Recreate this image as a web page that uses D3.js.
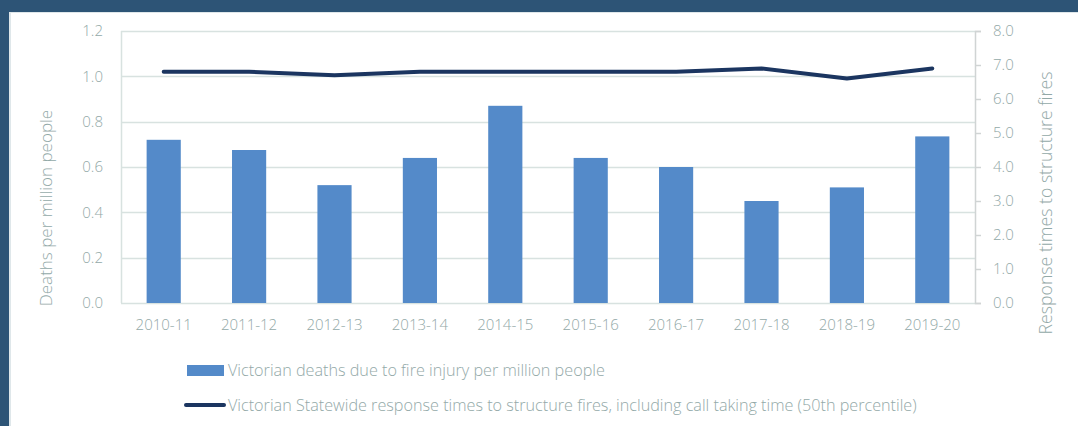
<!DOCTYPE html>
<html>
<head>
<meta charset="utf-8">
<script src="https://cdn.jsdelivr.net/npm/d3@7"></script>
<style>
  body { margin: 0; background: #2d5476; }
  text { font-family: 'Open Sans', sans-serif; font-weight: 300; fill: #93a9a8; }
</style>
</head>
<body>
<div class="chart"></div>
<script>
var width = 1078
var height = 426

var years = ['2010-11', '2011-12', '2012-13', '2013-14', '2014-15', '2015-16', '2016-17', '2017-18', '2018-19', '2019-20']
var deaths = [0.72, 0.675, 0.52, 0.64, 0.87, 0.64, 0.60, 0.45, 0.51, 0.735]
var response = [6.8, 6.8, 6.7, 6.8, 6.8, 6.8, 6.8, 6.9, 6.6, 6.9]
var leftTicks = [0, 0.2, 0.4, 0.6, 0.8, 1.0, 1.2]
var rightTicks = [0, 1, 2, 3, 4, 5, 6, 7, 8]
var legendLabels = ['Victorian deaths due to fire injury per million people',
    'Victorian Statewide response times to structure fires, including call taking time (50th percentile)']

var svg = d3.select('.chart').append('svg')
    .attr('width', width)
    .attr('height', height)
    .style('display', 'block');

// frame
svg.append('rect').attr('width', width).attr('height', height).attr('fill', '#2d5476');
svg.append('rect').attr('x', 9).attr('y', 12).attr('width', width - 9).attr('height', height - 12).attr('fill', '#dfe7ea');
svg.append('rect').attr('x', 11).attr('y', 13).attr('width', width - 11).attr('height', height - 13).attr('fill', '#ffffff');

var plotLeft = 121, plotRight = 975, plotTop = 31, plotBottom = 303

var x = d3.scaleBand().domain(years).range([plotLeft, plotRight]).paddingInner(0.6).paddingOuter(0.3)
var y = d3.scaleLinear().domain([0, 1.2]).range([plotBottom, plotTop])
var y2 = d3.scaleLinear().domain([0, 8]).range([plotBottom, plotTop])

// gridlines
svg.append('g').selectAll('line')
    .data(leftTicks)
    .enter()
    .append('line')
    .attr('x1', plotLeft).attr('x2', plotRight)
    .attr('y1', function (d) { return Math.round(y(d)) + 0.5 })
    .attr('y2', function (d) { return Math.round(y(d)) + 0.5 })
    .attr('stroke', '#d8e2e0')
    .attr('stroke-width', 1.5);

svg.append('line')
    .attr('x1', plotLeft + 0.5).attr('x2', plotLeft + 0.5)
    .attr('y1', plotTop).attr('y2', plotBottom)
    .attr('stroke', '#d8e2e0').attr('stroke-width', 1.5);

// left axis labels
svg.append('g').selectAll('text')
    .data(leftTicks)
    .enter()
    .append('text')
    .attr('x', 103)
    .attr('y', function (d) { return y(d) })
    .attr('dy', '0.35em')
    .attr('text-anchor', 'end')
    .style('font-size', '15px')
    .text(function (d) { return d.toFixed(1) });

// right axis
var rightAxis = d3.axisRight(y2).tickValues(rightTicks).tickSize(6).tickPadding(12)
    .tickFormat(function (d) { return d.toFixed(1) })
var ra = svg.append('g').attr('transform', 'translate(' + plotRight + ',0)').call(rightAxis)
ra.select('.domain').attr('stroke', '#d0d4d4').attr('stroke-width', 1.5)
ra.selectAll('.tick line').attr('stroke', '#d0d4d4').attr('stroke-width', 1.5)
ra.selectAll('.tick text')
    .attr('fill', null)
    .style('font-family', "'Open Sans', sans-serif")
    .style('font-size', '15px')

// bars
svg.append('g').selectAll('rect')
    .data(deaths)
    .enter()
    .append('rect')
    .attr('x', function (d, i) { return x(years[i]) })
    .attr('y', function (d) { return y(d) })
    .attr('width', x.bandwidth())
    .attr('height', function (d) { return plotBottom - y(d) })
    .attr('fill', '#548ac9');

// line
var line = d3.line()
    .x(function (d, i) { return x(years[i]) + x.bandwidth() / 2 })
    .y(function (d) { return y2(d) })

svg.append('path')
    .datum(response)
    .attr('d', line)
    .attr('fill', 'none')
    .attr('stroke', '#1b3560')
    .attr('stroke-width', 4)
    .attr('stroke-linecap', 'round')
    .attr('stroke-linejoin', 'round');

// x labels
svg.append('g').selectAll('text')
    .data(years)
    .enter()
    .append('text')
    .attr('x', function (d) { return x(d) + x.bandwidth() / 2 })
    .attr('y', 330)
    .attr('text-anchor', 'middle')
    .style('font-size', '15px')
    .text(function (d) { return d });

// axis titles
svg.append('text')
    .attr('transform', 'translate(52,208) rotate(-90)')
    .attr('text-anchor', 'middle')
    .style('font-size', '17px')
    .text('Deaths per million people');

svg.append('text')
    .attr('transform', 'translate(1052,203) rotate(-90)')
    .attr('text-anchor', 'middle')
    .style('font-size', '17.7px')
    .text('Response times to structure fires');

// legend
svg.append('rect')
    .attr('x', 187).attr('y', 365).attr('width', 37).attr('height', 11)
    .attr('fill', '#548ac9');
svg.append('text')
    .attr('x', 228).attr('y', 370)
    .attr('dy', '0.35em')
    .style('font-size', '16.2px')
    .text(legendLabels[0]);

svg.append('line')
    .attr('x1', 186).attr('x2', 224).attr('y1', 405).attr('y2', 405)
    .attr('stroke', '#1b3560').attr('stroke-width', 4).attr('stroke-linecap', 'round');
svg.append('text')
    .attr('x', 228).attr('y', 405)
    .attr('dy', '0.35em')
    .style('font-size', '16.2px')
    .text(legendLabels[1]);
</script>
</body>
</html>
